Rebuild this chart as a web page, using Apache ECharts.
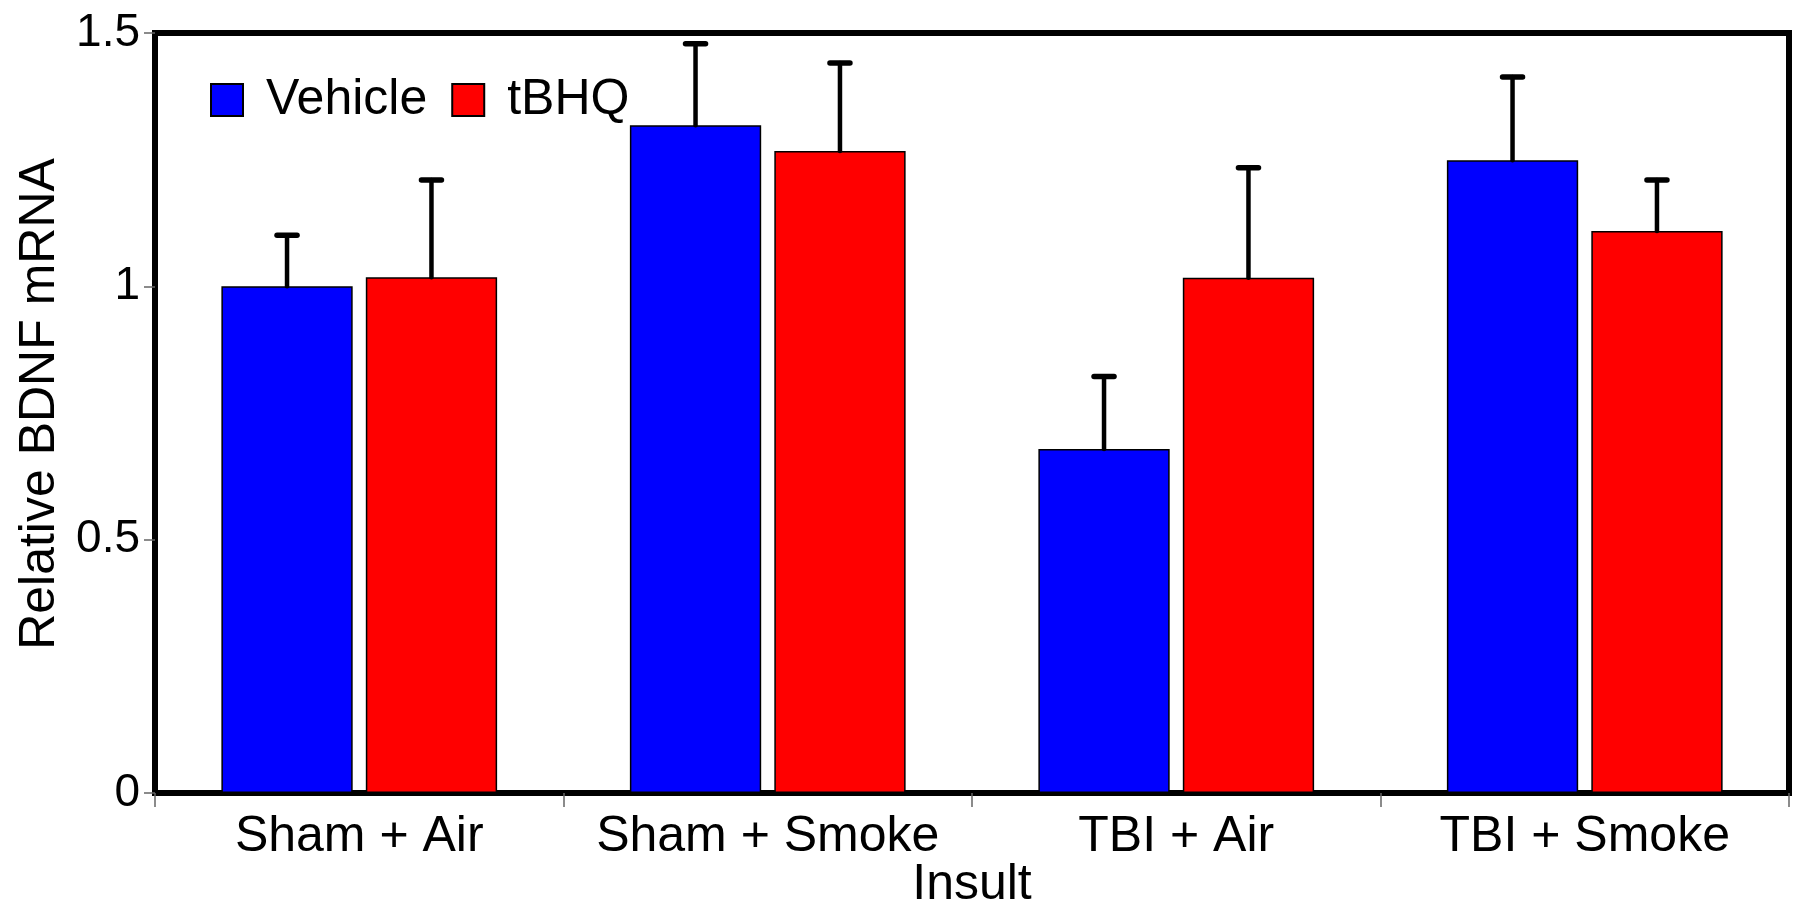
<!DOCTYPE html>
<html>
<head>
<meta charset="utf-8">
<script src="https://cdn.jsdelivr.net/npm/echarts@6/dist/echarts.min.js"></script>
<style>html,body{margin:0;padding:0;background:#fff}#c{width:1800px;height:906px}</style>
</head>
<body>
<div id="c"></div>
<script>
var categories = ['Sham + Air', 'Sham + Smoke', 'TBI + Air', 'TBI + Smoke'];
var vehicleMean = [1.000, 1.318, 0.679, 1.249];
var vehicleSem  = [0.101, 0.161, 0.143, 0.164];
var tbhqMean    = [1.018, 1.267, 1.017, 1.109];
var tbhqSem     = [0.192, 0.174, 0.217, 0.101];
var yTicks = [0, 0.5, 1, 1.5];

var FONT = 'Liberation Sans';
var CAT_GAP = 0.325, BAR_GAP = 0.10;

function errData(mean, sem) {
  return mean.map(function (m, i) { return [i, m, sem[i]]; });
}
function errRenderer(sign) {
  return function (params, api) {
    var idx = api.value(0), m = api.value(1), s = api.value(2);
    var base = api.coord([idx, m]);
    var top = api.coord([idx, m + s]);
    var bandW = api.size([1, 0])[0];
    var w = bandW * (1 - CAT_GAP) / (2 + BAR_GAP);
    var x = base[0] + sign * (w / 2 + BAR_GAP * w / 2);
    var st = { stroke: '#000', lineWidth: 4.5, lineCap: 'round' };
    return {
      type: 'group',
      children: [
        { type: 'line', shape: { x1: x, y1: base[1], x2: x, y2: top[1] }, style: st },
        { type: 'line', shape: { x1: x - 10, y1: top[1], x2: x + 10, y2: top[1] }, style: { stroke: '#000', lineWidth: 5.5, lineCap: 'round' } }
      ]
    };
  };
}

var chart = echarts.init(document.getElementById('c'));
chart.setOption({
  animation: false,
  backgroundColor: '#fff',
  textStyle: { fontFamily: FONT },
  grid: { left: 155, right: 11, top: 33, bottom: 113, outerBoundsMode: 'none', containLabel: false,
          show: true, borderColor: '#000', borderWidth: 6, backgroundColor: 'transparent' },
  legend: {
    data: ['Vehicle', 'tBHQ'],
    icon: 'rect',
    left: 205, top: 70,
    itemWidth: 32, itemHeight: 32, itemGap: 24,
    textStyle: { fontFamily: FONT, fontSize: 50, color: '#000', padding: [0, 0, 0, 18] }
  },
  xAxis: {
    type: 'category',
    data: categories,
    name: 'Insult',
    nameLocation: 'middle',
    nameGap: 67,
    nameMoveOverlap: false,
    nameTextStyle: { fontFamily: FONT, fontSize: 50, color: '#000' },
    axisLine: { lineStyle: { color: '#000', width: 6 } },
    axisTick: { show: true, interval: 0, length: 14, lineStyle: { color: '#666', width: 1.5 } },
    axisLabel: { interval: 0, fontFamily: FONT, fontSize: 50, color: '#000', margin: 19 },
    splitLine: { show: false }
  },
  yAxis: {
    type: 'value',
    min: yTicks[0], max: yTicks[yTicks.length - 1], interval: 0.5,
    name: 'Relative BDNF mRNA',
    nameLocation: 'middle',
    nameGap: 90,
    nameMoveOverlap: false,
    nameTextStyle: { fontFamily: FONT, fontSize: 50, color: '#000', padding: [0, 0, 0, 18] },
    axisLine: { show: true, lineStyle: { color: '#000', width: 6 } },
    axisTick: { show: true, length: 11, lineStyle: { color: '#666', width: 1.5 } },
    axisLabel: { fontFamily: FONT, fontSize: 46, color: '#000', margin: 15 },
    splitLine: { show: false }
  },
  series: [
    {
      name: 'Vehicle', type: 'bar', data: vehicleMean,
      barCategoryGap: (CAT_GAP * 100) + '%', barGap: (BAR_GAP * 100) + '%',
      itemStyle: { color: '#0000ff', borderColor: '#000', borderWidth: 1.5 }
    },
    {
      name: 'tBHQ', type: 'bar', data: tbhqMean,
      barCategoryGap: (CAT_GAP * 100) + '%', barGap: (BAR_GAP * 100) + '%',
      itemStyle: { color: '#ff0000', borderColor: '#000', borderWidth: 1.5 }
    },
    {
      name: 'errV', type: 'custom', data: errData(vehicleMean, vehicleSem),
      renderItem: errRenderer(-1), z: 5, encode: { x: 0, y: [1] }, silent: true
    },
    {
      name: 'errT', type: 'custom', data: errData(tbhqMean, tbhqSem),
      renderItem: errRenderer(1), z: 5, encode: { x: 0, y: [1] }, silent: true
    }
  ]
});
</script>
</body>
</html>
